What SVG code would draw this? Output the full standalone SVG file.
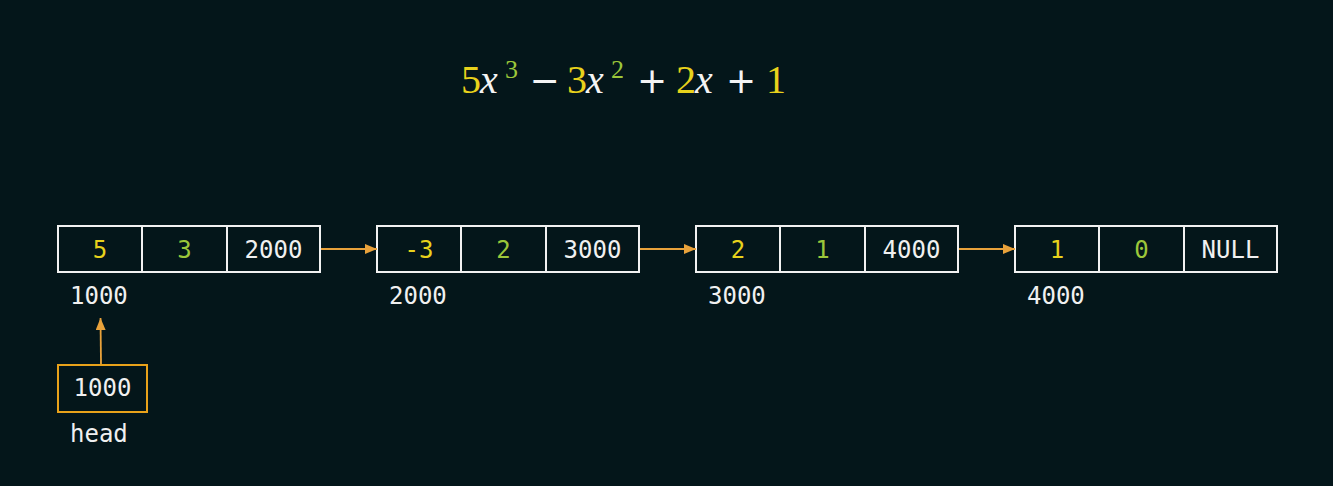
<svg xmlns="http://www.w3.org/2000/svg" width="1333" height="486" viewBox="0 0 1333 486">
<defs>
<style>
.bg{fill:#04161a}
.cell{fill:none;stroke:#f2f2f2;stroke-width:2}
.t{font-family:"DejaVu Sans Mono","Liberation Mono",monospace;font-size:24px;fill:#f0f0f0;text-anchor:middle}
.a{font-family:"DejaVu Sans Mono","Liberation Mono",monospace;font-size:24px;fill:#f0f0f0}
.eq{font-family:"Liberation Serif","DejaVu Serif",serif;font-size:40px;fill:#f4f4f4}
.eqi{font-style:italic}
.sup{font-size:26px}
.op{font-family:"DejaVu Sans","Liberation Sans",sans-serif;font-size:36px;fill:#f4f4f4;text-anchor:middle}
.y{fill:#e8d21c}
.g{fill:#9cc73a}
.conn{stroke:#e9a23b;stroke-width:1.8;fill:none}
.head{fill:none;stroke:#e9a21a;stroke-width:2}
</style>
<marker id="arr" viewBox="0 0 12 10" refX="12" refY="5" markerWidth="12" markerHeight="10" markerUnits="userSpaceOnUse" orient="auto">
<path d="M0,0 L12,5 L0,10 z" fill="#e9a23b"/>
</marker>
</defs>
<rect class="bg" x="0" y="0" width="1333" height="486"/>

<g id="equation">
<text class="eq" y="93"><tspan class="y" x="461">5</tspan><tspan class="eqi" x="480">x</tspan><tspan class="g sup" x="505" y="78">3</tspan></text>
<text class="op" x="544.5" y="93">−</text>
<text class="eq" y="93"><tspan class="y" x="567">3</tspan><tspan class="eqi" x="586">x</tspan><tspan class="g sup" x="611" y="78">2</tspan></text>
<text class="op" x="652" y="93">+</text>
<text class="eq" y="93"><tspan class="y" x="676">2</tspan><tspan class="eqi" x="695">x</tspan></text>
<text class="op" x="741" y="93">+</text>
<text class="eq" y="93"><tspan class="y" x="766">1</tspan></text>
</g>

<g id="node1">
<rect class="cell" x="58" y="226" width="262" height="46"/>
<line class="cell" x1="142" y1="226" x2="142" y2="272"/>
<line class="cell" x1="227" y1="226" x2="227" y2="272"/>
<text class="t y" x="100" y="257.5">5</text>
<text class="t g" x="184.5" y="257.5">3</text>
<text class="t" x="273.5" y="257.5">2000</text>
<text class="a" x="70" y="304">1000</text>
</g>

<g id="node2">
<rect class="cell" x="377" y="226" width="262" height="46"/>
<line class="cell" x1="461" y1="226" x2="461" y2="272"/>
<line class="cell" x1="546" y1="226" x2="546" y2="272"/>
<text class="t y" x="419" y="257.5">-3</text>
<text class="t g" x="503.5" y="257.5">2</text>
<text class="t" x="592.5" y="257.5">3000</text>
<text class="a" x="389" y="304">2000</text>
</g>

<g id="node3">
<rect class="cell" x="696" y="226" width="262" height="46"/>
<line class="cell" x1="780" y1="226" x2="780" y2="272"/>
<line class="cell" x1="865" y1="226" x2="865" y2="272"/>
<text class="t y" x="738" y="257.5">2</text>
<text class="t g" x="822.5" y="257.5">1</text>
<text class="t" x="911.5" y="257.5">4000</text>
<text class="a" x="708" y="304">3000</text>
</g>

<g id="node4">
<rect class="cell" x="1015" y="226" width="262" height="46"/>
<line class="cell" x1="1099" y1="226" x2="1099" y2="272"/>
<line class="cell" x1="1184" y1="226" x2="1184" y2="272"/>
<text class="t y" x="1057" y="257.5">1</text>
<text class="t g" x="1141.5" y="257.5">0</text>
<text class="t" x="1230.5" y="257.5">NULL</text>
<text class="a" x="1027" y="304">4000</text>
</g>

<g id="head">
<rect class="head" x="58" y="365" width="89" height="47"/>
<text class="t" x="102.5" y="396">1000</text>
<text class="a" x="70" y="442">head</text>
</g>

<g id="connectors">
<line class="conn" x1="321" y1="249" x2="377" y2="249" marker-end="url(#arr)"/>
<line class="conn" x1="640" y1="249" x2="696" y2="249" marker-end="url(#arr)"/>
<line class="conn" x1="959" y1="249" x2="1015" y2="249" marker-end="url(#arr)"/>
<line class="conn" x1="101" y1="364" x2="100.5" y2="318" marker-end="url(#arr)"/>
</g>
</svg>
